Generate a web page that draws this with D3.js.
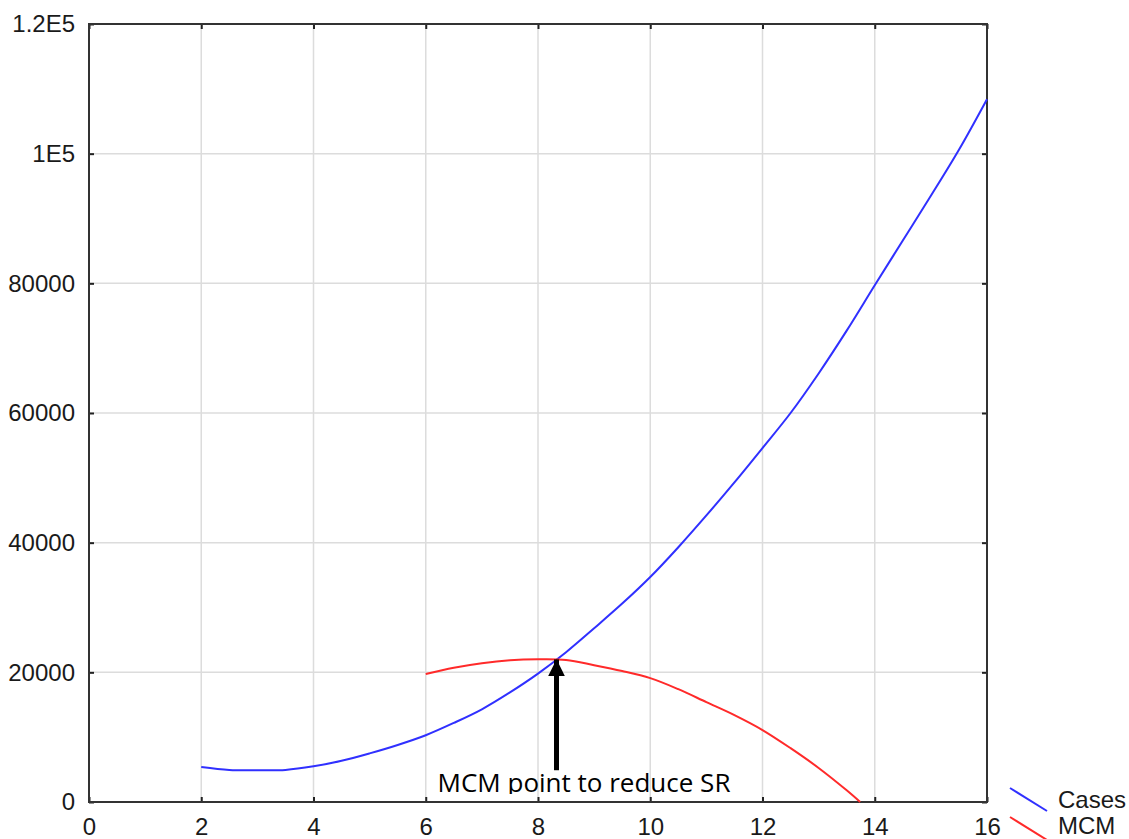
<!DOCTYPE html>
<html>
<head>
<meta charset="utf-8">
<script src="https://cdn.jsdelivr.net/npm/d3@7"></script>
<style>
  body { margin: 0; background: #fff; }
  svg { display: block; }
</style>
</head>
<body>
<div id="chart"></div>
<script>
// values
var caseX = [2, 2.5, 3, 3.5, 4, 4.5, 5, 5.5, 6, 6.5, 7, 7.5, 8, 8.5, 9, 9.5, 10, 10.5, 11, 11.5, 12, 12.5, 13, 13.5, 14, 14.5, 15, 15.5, 16];
var caseY = [5400, 4950, 4900, 4950, 5500, 6350, 7500, 8800, 10300, 12200, 14300, 16900, 19800, 23100, 26800, 30600, 34700, 39300, 44200, 49300, 54600, 60000, 66100, 72700, 79700, 86600, 93500, 100600, 108400];
var mcmX = [6, 6.5, 7, 7.5, 8, 8.5, 9, 9.5, 10, 10.5, 11, 11.5, 12, 12.5, 13, 13.5, 13.74];
var mcmY = [19750, 20700, 21400, 21850, 22000, 21900, 21100, 20200, 19100, 17400, 15400, 13400, 11100, 8300, 5250, 1800, 0];
var xTicks = [0, 2, 4, 6, 8, 10, 12, 14, 16];
var yTicks = [0, 20000, 40000, 60000, 80000, 100000, 120000];
var yTickLabels = ['0', '20000', '40000', '60000', '80000', '1E5', '1.2E5'];
var seriesNames = ['Cases', 'MCM'];
var arrowX = 8.33, arrowFrom = 4900, arrowTo = 22000;
var noteText = 'MCM point to reduce SR';

var margin = { top: 24, right: 142, bottom: 37, left: 89 },
    width = 1129 - margin.left - margin.right,
    height = 839 - margin.top - margin.bottom;

var svgRoot = d3.select('#chart').append('svg')
    .attr('width', 1129)
    .attr('height', 839);

var svg = svgRoot.append('g')
    .attr('transform', 'translate(' + margin.left + ',' + margin.top + ')');

var x = d3.scaleLinear().domain([0, 16]).range([0, width]);
var y = d3.scaleLinear().domain([0, 120000]).range([height, 0]);

// grid
svg.append('g').selectAll('line.gx')
    .data(xTicks.slice(1, -1)).enter().append('line')
    .attr('x1', d => x(d)).attr('x2', d => x(d))
    .attr('y1', 0).attr('y2', height)
    .attr('stroke', '#dcdcdc').attr('stroke-width', 1.5);
svg.append('g').selectAll('line.gy')
    .data(yTicks.slice(1, -1)).enter().append('line')
    .attr('y1', d => y(d)).attr('y2', d => y(d))
    .attr('x1', 0).attr('x2', width)
    .attr('stroke', '#dcdcdc').attr('stroke-width', 1.5);

// axes (inward ticks on all sides)
var axisFont = 'Arial, "Liberation Sans", sans-serif';
function styleAxis(g) {
  g.select('.domain').remove();
  g.selectAll('.tick line').attr('stroke', '#222').attr('stroke-width', 2);
  g.selectAll('text').attr('fill', '#1a1a1a').style('font-family', axisFont).style('font-size', '24px');
}
svg.append('g')
    .attr('transform', 'translate(0,' + height + ')')
    .call(d3.axisBottom(x).tickValues(xTicks).tickFormat(d3.format('d')).tickSizeInner(-5).tickPadding(16))
    .call(styleAxis);
svg.append('g')
    .call(d3.axisTop(x).tickValues(xTicks).tickSizeInner(-5).tickFormat(''))
    .call(styleAxis);
svg.append('g')
    .call(d3.axisLeft(y).tickValues(yTicks).tickFormat((d, i) => yTickLabels[i]).tickSizeInner(-5).tickPadding(14))
    .call(styleAxis);
svg.append('g')
    .attr('transform', 'translate(' + width + ',0)')
    .call(d3.axisRight(y).tickValues(yTicks).tickSizeInner(-5).tickFormat(''))
    .call(styleAxis);

// frame
svg.append('rect')
    .attr('x', 0).attr('y', 0).attr('width', width).attr('height', height)
    .attr('fill', 'none').attr('stroke', '#333').attr('stroke-width', 2);

// series
var line = d3.line()
    .x(d => x(d[0])).y(d => y(d[1]))
    .curve(d3.curveCatmullRom);

svg.append('path')
    .datum(caseX.map((v, i) => [v, caseY[i]]))
    .attr('d', line)
    .attr('fill', 'none').attr('stroke', '#3030ff').attr('stroke-width', 2);

svg.append('path')
    .datum(mcmX.map((v, i) => [v, mcmY[i]]))
    .attr('d', line)
    .attr('fill', 'none').attr('stroke', '#ff2a2a').attr('stroke-width', 2);

// arrow annotation
svg.append('defs').append('marker')
    .attr('id', 'head')
    .attr('viewBox', '0 0 10 10')
    .attr('refX', 10).attr('refY', 5)
    .attr('markerWidth', 3.4).attr('markerHeight', 4)
    .attr('markerUnits', 'strokeWidth')
    .attr('orient', 'auto')
  .append('path')
    .attr('d', 'M0,0 L10,5 L0,10 z')
    .attr('fill', '#000');

svg.append('line')
    .attr('x1', x(arrowX)).attr('x2', x(arrowX))
    .attr('y1', y(arrowFrom)).attr('y2', y(arrowTo))
    .attr('stroke', '#000').attr('stroke-width', 5)
    .attr('marker-end', 'url(#head)');

// the note box hides the descenders in the original
svg.append('clipPath').attr('id', 'noteClip')
  .append('rect')
    .attr('x', 0).attr('y', 0).attr('width', width).attr('height', height - 8);

svg.append('text')
    .attr('clip-path', 'url(#noteClip)')
    .attr('x', x(8.82)).attr('y', height - 10)
    .attr('text-anchor', 'middle')
    .style('font-family', '"Open Sans", "Noto Sans", sans-serif')
    .style('font-size', '26px')
    .attr('fill', '#000')
    .text(noteText);

// legend
var colors = ['#3030ff', '#ff2a2a'];
var legend = svgRoot.append('g').attr('transform', 'translate(1010,788)');
seriesNames.forEach(function(name, i) {
  legend.append('line')
      .attr('x1', 0).attr('y1', i * 29)
      .attr('x2', 37).attr('y2', i * 29 + 23)
      .attr('stroke', colors[i]).attr('stroke-width', 2);
  legend.append('text')
      .attr('x', 48).attr('y', i * 26 + 20)
      .style('font-family', axisFont).style('font-size', '24px')
      .attr('fill', '#1a1a1a')
      .text(name);
});
</script>
</body>
</html>
